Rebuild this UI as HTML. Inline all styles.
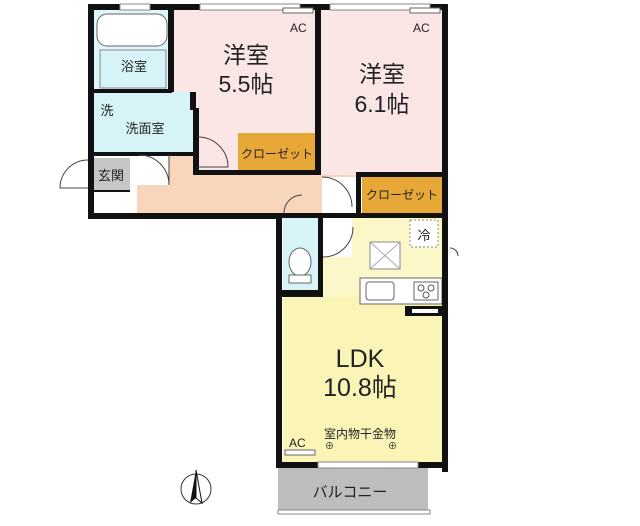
<!DOCTYPE html>
<html><head><meta charset="utf-8"><style>
body{margin:0;background:#fff}
svg{display:block}
text{font-family:"Liberation Sans","Noto Sans CJK JP",sans-serif;fill:#222}
</style></head><body>
<svg width="640" height="526" viewBox="0 0 640 526" xmlns="http://www.w3.org/2000/svg">
<rect x="172" y="8" width="148" height="165" fill="#fbe6e6"/>
<rect x="320" y="8" width="125" height="170" fill="#fbe6e6"/>
<rect x="93" y="8" width="79" height="84" fill="#dff6fa"/>
<rect x="93" y="92" width="100" height="62" fill="#d6f4f8"/>
<rect x="137" y="155" width="58" height="60" fill="#f8d6bc"/>
<rect x="193" y="175" width="165" height="40" fill="#f8d6bc"/>
<rect x="137" y="155" width="32" height="30" fill="#fff"/>
<rect x="322" y="177" width="36" height="38" fill="#fff"/>
<rect x="93" y="158" width="37" height="34" fill="#c6c6c6"/>
<rect x="238" y="133" width="78" height="39" fill="#e8a838"/>
<rect x="362" y="177" width="80" height="37" fill="#e8a838"/>
<rect x="320" y="217" width="124" height="246" fill="#fbf7c8"/>
<rect x="283" y="297" width="160" height="166" fill="#faf5b6"/>
<rect x="283" y="217" width="35" height="78" fill="#d6f4f8"/>
<rect x="322" y="217" width="30" height="40" fill="#fff"/>
<rect x="278" y="468" width="150" height="42" fill="#bdbdbd"/>
<rect x="360" y="278" width="82" height="26" fill="#fff" stroke="#666"/>
<rect x="366" y="282" width="28" height="18" fill="#fff" stroke="#666" rx="3"/>
<rect x="414" y="282" width="24" height="18" fill="#fff" stroke="#666"/>
<circle cx="421" cy="288" r="3" fill="none" stroke="#555"/><circle cx="431" cy="288" r="3" fill="none" stroke="#555"/><circle cx="426" cy="295" r="3" fill="none" stroke="#555"/>
<rect x="370" y="242" width="30" height="27" fill="#fff" stroke="#888"/>
<path d="M370 242L400 269M400 242L370 269" stroke="#aaa"/>
<rect x="410" y="220" width="28" height="27" fill="#fff" stroke="#888" stroke-dasharray="2 2"/>
<text x="424" y="240" font-size="13" text-anchor="middle">冷</text>
<rect x="97" y="14" width="70" height="32" rx="10" fill="#fff" stroke="#666"/>
<rect x="100" y="50" width="66" height="38" fill="#d6f4f8" stroke="#888"/>
<g fill="#111">
<rect x="88" y="4" width="360" height="6"/>
<rect x="88" y="4" width="6" height="215"/>
<rect x="88" y="213" width="194" height="6"/>
<rect x="168" y="4" width="6" height="88"/>
<rect x="93" y="89" width="79" height="4"/>
<rect x="190" y="92" width="6" height="18"/>
<rect x="193" y="108" width="6" height="67"/>
<rect x="193" y="170" width="127" height="5"/>
<rect x="315" y="4" width="6" height="171"/>
<rect x="442" y="4" width="6" height="468"/>
<rect x="356" y="172" width="88" height="5"/>
<rect x="356" y="172" width="5" height="45"/>
<rect x="276" y="213" width="166" height="5"/>
<rect x="276" y="213" width="6" height="255"/>
<rect x="318" y="213" width="5" height="84"/>
<rect x="280" y="290" width="42" height="7"/>
<rect x="276" y="462" width="172" height="6"/>
<rect x="405" y="306" width="37" height="10"/>
<rect x="93" y="152" width="100" height="4"/>
<rect x="93" y="190" width="37" height="2"/>
</g>
<rect x="412" y="309" width="26" height="4" fill="#fff"/>
<g fill="#fff" stroke="#888"><rect x="120" y="4" width="30" height="6"/><rect x="200" y="4" width="100" height="6"/><rect x="330" y="4" width="100" height="6"/><rect x="318" y="462" width="100" height="6"/></g>
<rect x="278" y="510" width="152" height="4" fill="#fff" stroke="#888"/>
<g fill="none" stroke="#444">
<path d="M169 155 L169 185 A30 30 0 0 0 139 155"/>
<path d="M198 137 A30 30 0 0 1 228 167 L198 167"/>
<path d="M322 177 A30 30 0 0 1 352 207"/>
<path d="M323 257 A30 30 0 0 0 353 227"/>
<path d="M88 160 A28 28 0 0 0 60 188 L88 188"/>
<path d="M284 213 A18 18 0 0 1 302 195"/>
<path d="M450 248 A8 8 0 0 1 458 256"/>
</g>
<ellipse cx="300" cy="262" rx="11" ry="14" fill="#fff" stroke="#666"/>
<rect x="289" y="275" width="22" height="8" fill="#fff" stroke="#666"/>
<g fill="#fff" stroke="#666"><rect x="283" y="8" width="30" height="5"/><rect x="410" y="8" width="30" height="5"/><rect x="285" y="450" width="30" height="5"/></g>
<g font-size="12"><text x="290" y="32">AC</text><text x="413" y="32">AC</text><text x="289" y="447">AC</text></g>
<text x="246" y="63" font-size="23" text-anchor="middle">洋室</text>
<text x="246" y="92" font-size="23" text-anchor="middle">5.5帖</text>
<text x="382" y="82" font-size="23" text-anchor="middle">洋室</text>
<text x="382" y="112" font-size="23" text-anchor="middle">6.1帖</text>
<text x="277" y="158" font-size="12" text-anchor="middle">クローゼット</text>
<text x="402" y="199" font-size="12" text-anchor="middle">クローゼット</text>
<text x="134" y="71" font-size="13" text-anchor="middle">浴室</text>
<text x="107" y="115" font-size="13" text-anchor="middle">洗</text>
<text x="145" y="133" font-size="13" text-anchor="middle">洗面室</text>
<text x="111" y="180" font-size="13" text-anchor="middle">玄関</text>
<text x="360" y="367" font-size="25" text-anchor="middle">LDK</text>
<text x="360" y="396" font-size="25" text-anchor="middle">10.8帖</text>
<text x="360" y="438" font-size="12" text-anchor="middle">室内物干金物</text>
<text x="325" y="449" font-size="9">⊕</text><text x="388" y="449" font-size="9">⊕</text>
<text x="350" y="497" font-size="15" text-anchor="middle">バルコニー</text>
<circle cx="196" cy="489" r="15" fill="none" stroke="#333"/>
<path d="M196 470 L190 503 L196 498 Z" fill="#111"/><path d="M196 470 L202 503 L196 498 Z" fill="#fff" stroke="#111"/>
</svg>
</body></html>
